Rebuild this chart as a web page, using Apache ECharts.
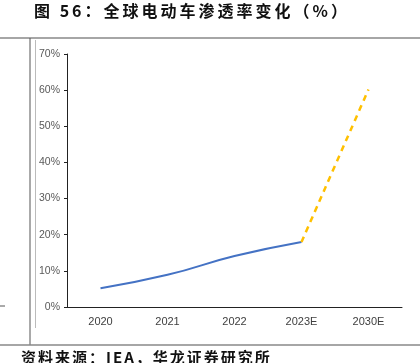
<!DOCTYPE html>
<html><head><meta charset="utf-8">
<script src="https://cdn.jsdelivr.net/npm/echarts@6/dist/echarts.min.js"></script>
<style>html,body{margin:0;padding:0;background:#fff}#c{width:420px;height:363px}</style>
</head><body><div id="c"></div>
<script>
const categories = ['2020', '2021', '2022', '2023E', '2030E'];
const actualValues = [5.2, 8.9, 14.1, 18.0, null];
const forecastValues = [null, null, null, 18.0, 60.2];
const yTicks = [0, 10, 20, 30, 40, 50, 60, 70];
const titleText = '图 56：全球电动车渗透率变化（%）';
const sourceText = '资料来源：IEA，华龙证券研究所';

const measureCtx = document.createElement('canvas').getContext('2d');
function spacedText(str, x0, y, font, spacing, fill) {
  measureCtx.font = font;
  const els = [];
  let x = x0;
  for (const ch of str) {
    els.push({type: 'text', x: x, y: y, silent: true,
      style: {text: ch, font: font, fill: fill, verticalAlign: 'top', align: 'left'}});
    x += measureCtx.measureText(ch).width + spacing;
  }
  return els;
}
const titleFont = 'bold 16px "Noto Sans CJK SC"';
const sourceFont = 'bold 15px "Noto Sans CJK SC"';

const chart = echarts.init(document.getElementById('c'), null, {renderer: 'canvas'});
chart.setOption({
  animation: false,
  backgroundColor: '#fff',
  grid: {left: 67, right: 18, top: 54, bottom: 56},
  xAxis: {
    type: 'category', data: categories, boundaryGap: true,
    axisLine: {lineStyle: {color: '#222', width: 1}},
    axisTick: {length: 3, lineStyle: {color: '#222'}},
    axisLabel: {color: '#404040', fontSize: 11, margin: 9, fontFamily: 'Liberation Sans, Arial'}
  },
  yAxis: {
    type: 'value', min: yTicks[0], max: yTicks[yTicks.length - 1], interval: 10,
    axisLine: {show: true, lineStyle: {color: '#222', width: 1}},
    axisTick: {show: true, length: 3, lineStyle: {color: '#222'}},
    splitLine: {show: false},
    axisLabel: {formatter: '{value}%', color: '#595959', fontSize: 10.5, margin: 7, fontFamily: 'Liberation Sans, Arial'}
  },
  series: [
    {type: 'line', data: actualValues, smooth: 0.5, symbol: 'none',
     lineStyle: {color: '#4472C4', width: 2}},
    {type: 'line', data: forecastValues, smooth: 0.5, symbol: 'none',
     lineStyle: {color: '#FFC000', width: 2.5, type: [6, 5]}}
  ],
  graphic: [
    ...spacedText(titleText, 34, 3, titleFont, 3, '#111'),
    {type: 'line', shape: {x1: 0, y1: 38, x2: 420, y2: 38}, style: {stroke: '#888', lineWidth: 1.5}},
    {type: 'line', shape: {x1: 30, y1: 38, x2: 30, y2: 345}, style: {stroke: '#555', lineWidth: 1}},
    {type: 'line', shape: {x1: 35.5, y1: 40, x2: 35.5, y2: 328}, style: {stroke: '#bbb', lineWidth: 1}},
    {type: 'line', shape: {x1: 0, y1: 306, x2: 5, y2: 306}, style: {stroke: '#555', lineWidth: 1}},
    {type: 'line', shape: {x1: 0, y1: 345, x2: 420, y2: 345}, style: {stroke: '#888', lineWidth: 1.5}},
    ...spacedText(sourceText, 21, 350, sourceFont, 2, '#111')
  ]
});
</script></body></html>
